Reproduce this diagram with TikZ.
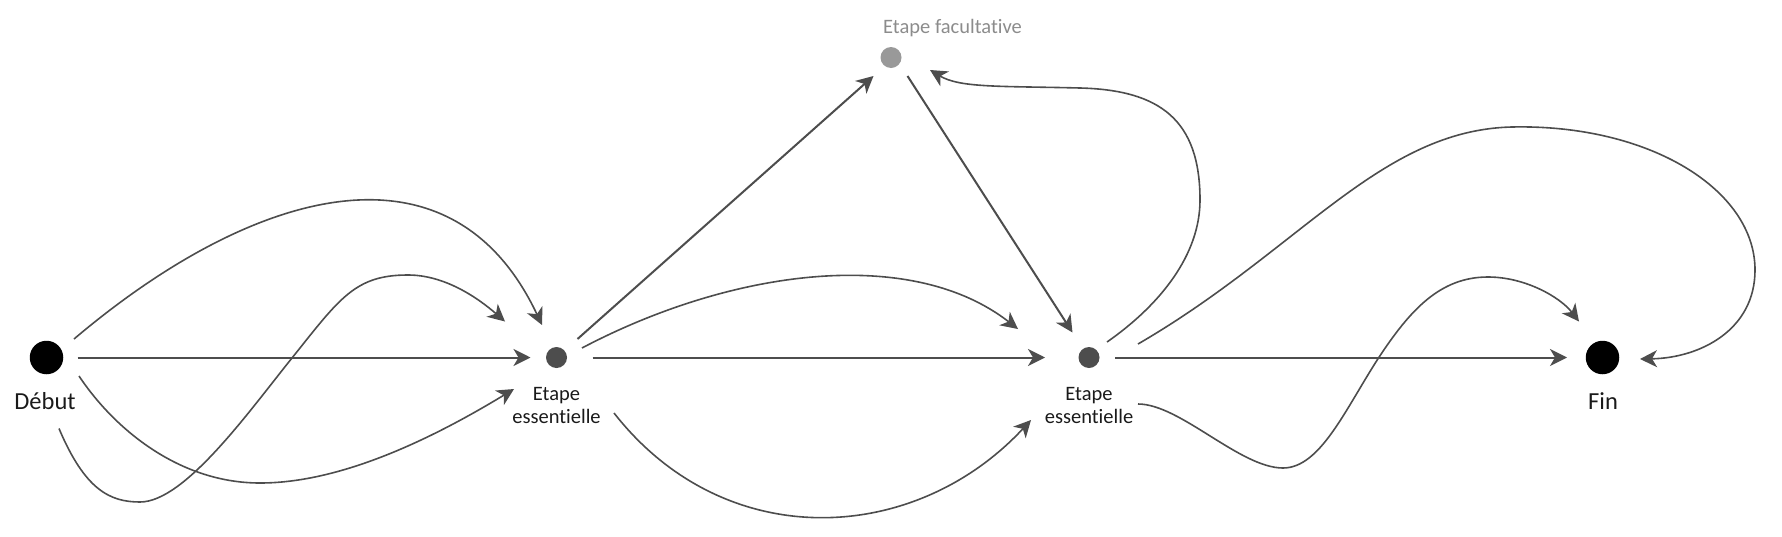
\documentclass[tikz,border=0pt]{standalone}
\usepackage{fontspec}
\setmainfont{Carlito}[Ligatures=NoCommon]
\usetikzlibrary{arrows.meta}
\definecolor{lineg}{HTML}{4D4D4D}
\definecolor{dotg}{HTML}{4D4D4D}
\definecolor{facg}{HTML}{999999}
\definecolor{factext}{HTML}{8C8C8C}
\definecolor{textc}{HTML}{1A1A1A}
\begin{document}
\begin{tikzpicture}[x=1pt,y=-1pt,
 bigdot/.style={circle,fill=black,minimum size=33.5pt,inner sep=0pt},
 smalldot/.style={circle,fill=dotg,minimum size=21pt,inner sep=0pt},
 facdot/.style={circle,fill=facg,minimum size=21pt,inner sep=0pt},
 biglabel/.style={font=\fontsize{24.5}{28}\selectfont,anchor=base,inner sep=0pt,text=textc},
 smalllabel/.style={font=\fontsize{20.5}{22.8}\selectfont,align=center,anchor=base,inner sep=0pt,text=textc},
 conn/.style={draw=lineg,line width=1.6pt,-{Stealth[length=17pt,width=17pt,inset=5pt]}},
 straightconn/.style={conn,line width=2pt}]
\useasboundingbox (0,0) rectangle (1782,536);

% nodes
\node[bigdot] (debut) at (46.5,357.5) {};
\node[biglabel] (debutl) at (45,409.3) {Début};
\node[smalldot] (e1) at (556.5,357.5) {};
\node[smalllabel] (e1l) at (556.5,423.3) {Etape\\essentielle};
\node[smalldot] (e2) at (1089,357.5) {};
\node[smalllabel] (e2l) at (1089,423.3) {Etape\\essentielle};
\node[bigdot] (fin) at (1602.5,357.5) {};
\node[biglabel] (finl) at (1603,409.3) {Fin};
\node[facdot] (fac) at (891,57.5) {};
\node[smalllabel,anchor=base west,text=factext] (facl) at (883,33.3) {Etape facultative};

% Debut -> E1
\draw[straightconn] ([shift={(31,0)}]debut.center) -- ([shift={(-26,0)}]e1.center);
\draw[conn] ([shift={(27.5,-18.5)}]debut.center) .. controls (250,190) and (450,130) .. ([shift={(-14.5,-32.5)}]e1.center);
\draw[conn] ([shift={(12.5,71)}]debut.center) .. controls (85,490) and (110,502) .. (140,502)
  .. controls (185,502) and (250,410) .. (292,358)
  .. controls (340,298) and (355,275) .. (408,275)
  .. controls (445,275) and (478,298) .. ([shift={(-51.5,-36)}]e1.center);
\draw[conn] ([shift={(32.5,18.5)}]debut.center) .. controls (115,430) and (180,483) .. (260,483)
  .. controls (340,483) and (430,440) .. ([shift={(-42.5,31.5)}]e1.center);

% E1 -> Fac, E1 -> E2
\draw[straightconn] ([shift={(21,-18.5)}]e1.center) -- ([shift={(-17.5,18.5)}]fac.center);
\draw[conn] ([shift={(25.5,-9.5)}]e1.center) .. controls (730,270) and (910,245) .. ([shift={(-71,-28.5)}]e2.center);
\draw[straightconn] ([shift={(36,0)}]e1.center) -- ([shift={(-44,0)}]e2.center);
\draw[conn] ([shift={(57.5,55.5)}]e1.center) .. controls (725,555) and (915,545) .. ([shift={(-58,62.5)}]e2.center);

% Fac -> E2
\draw[straightconn] ([shift={(16.5,18.5)}]fac.center) -- ([shift={(-16.5,-25)}]e2.center);

% E2 -> Fac
\draw[conn] ([shift={(18,-15.5)}]e2.center) .. controls (1160,305) and (1200,255) .. (1200,200)
  .. controls (1200,120) and (1160,90) .. (1080,88)
  .. controls (1000,86) and (960,88) .. ([shift={(39,12.5)}]fac.center);

% E2 -> Fin
\draw[straightconn] ([shift={(26,0)}]e2.center) -- ([shift={(-35.5,0)}]fin.center);
\draw[conn] ([shift={(49,-13.5)}]e2.center) .. controls (1300,250) and (1380,130) .. (1512,127)
  .. controls (1650,124) and (1755,190) .. (1755,270)
  .. controls (1755,330) and (1700,358) .. ([shift={(37.5,1.5)}]fin.center);
\draw[conn] ([shift={(49,46.5)}]e2.center) .. controls (1180,404) and (1240,468) .. (1283,468)
  .. controls (1320,468) and (1345,410) .. (1378,358.7)
  .. controls (1410,310) and (1440,277) .. (1488,277)
  .. controls (1525,277) and (1560,297) .. ([shift={(-23.5,-36)}]fin.center);
\end{tikzpicture}
\end{document}
